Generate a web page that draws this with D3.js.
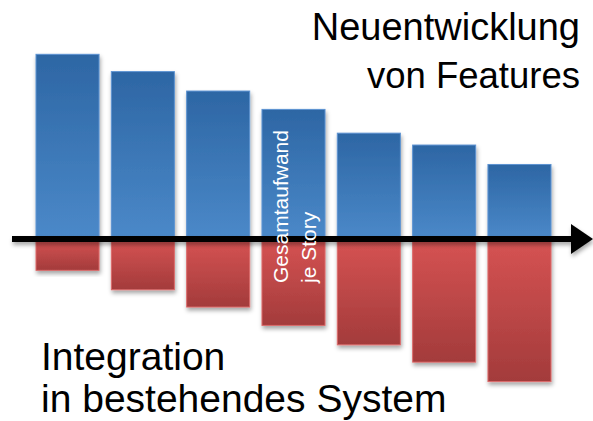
<!DOCTYPE html>
<html>
<head>
<meta charset="utf-8">
<script src="https://cdn.jsdelivr.net/npm/d3@7"></script>
<style>
  body { margin: 0; background: #fff; }
  svg { display: block; }
  text { font-family: "Liberation Sans", Arial, sans-serif; }
</style>
</head>
<body>
<div id="chart"></div>
<script>
// Aufwand je Story: Neuentwicklung (oben) vs. Integration (unten)
var stories = ["S1", "S2", "S3", "S4", "S5", "S6", "S7"];
var neuentwicklung = [8.55, 7.75, 6.85, 6.0, 4.9, 4.35, 3.45];
var integration = [1.45, 2.35, 3.15, 4.0, 4.9, 5.7, 6.6];

var width = 593, height = 421;

var svg = d3.select("#chart").append("svg")
  .attr("width", width)
  .attr("height", height);

var defs = svg.append("defs");

var blueGrad = defs.append("linearGradient")
  .attr("id", "blueGrad").attr("x1", 0).attr("y1", 0).attr("x2", 0).attr("y2", 1);
blueGrad.append("stop").attr("offset", "0%").attr("stop-color", "#2d66a4");
blueGrad.append("stop").attr("offset", "100%").attr("stop-color", "#4b89c9");

var redGrad = defs.append("linearGradient")
  .attr("id", "redGrad").attr("x1", 0).attr("y1", 0).attr("x2", 0).attr("y2", 1);
redGrad.append("stop").attr("offset", "0%").attr("stop-color", "#d65353");
redGrad.append("stop").attr("offset", "100%").attr("stop-color", "#a33b3b");

var shadow = defs.append("filter").attr("id", "shadow")
  .attr("x", "-10%").attr("y", "-10%").attr("width", "130%").attr("height", "130%");
shadow.append("feDropShadow")
  .attr("dx", 1).attr("dy", 3).attr("stdDeviation", 2)
  .attr("flood-color", "#000").attr("flood-opacity", 0.35);

var x = d3.scaleBand()
  .domain(stories)
  .range([36, 551])
  .paddingInner(0.163)
  .paddingOuter(0);

var y = d3.scaleLinear()
  .domain([-7, 9])
  .range([239 + 7 * 21.6, 239 - 9 * 21.6]);

// blaue Balken (oberhalb der Achse)
svg.selectAll(".neu").data(neuentwicklung)
  .enter().append("rect")
  .attr("class", "neu")
  .attr("x", function(d, i) { return x(stories[i]); })
  .attr("y", function(d) { return y(d); })
  .attr("width", x.bandwidth())
  .attr("height", function(d) { return y(0) - y(d); })
  .attr("fill", "url(#blueGrad)")
  .attr("stroke", "#5d93d2")
  .attr("stroke-width", 1)
  .attr("filter", "url(#shadow)");

// rote Balken (unterhalb der Achse)
svg.selectAll(".int").data(integration)
  .enter().append("rect")
  .attr("class", "int")
  .attr("x", function(d, i) { return x(stories[i]); })
  .attr("y", y(0))
  .attr("width", x.bandwidth())
  .attr("height", function(d) { return y(-d) - y(0); })
  .attr("fill", "url(#redGrad)")
  .attr("stroke", "#dc6b6b")
  .attr("stroke-width", 1)
  .attr("filter", "url(#shadow)");

// Achse mit Pfeil
var axis = svg.append("g").attr("filter", "url(#shadow)");
axis.append("line")
  .attr("x1", 12).attr("x2", 574)
  .attr("y1", y(0)).attr("y2", y(0))
  .attr("stroke", "#000")
  .attr("stroke-width", 6);
axis.append("path")
  .attr("d", "M571," + (y(0) - 15) + "L593," + y(0) + "L571," + (y(0) + 15) + "Z")
  .attr("fill", "#000");

// Beschriftung im Balken
var mid = x(stories[3]) + x.bandwidth() / 2;
var label = svg.append("text")
  .attr("transform", "translate(" + mid + ",283) rotate(-90)")
  .attr("fill", "#fff")
  .attr("font-size", 21);
label.append("tspan").attr("x", 0).attr("dy", -6).text("Gesamtaufwand");
label.append("tspan").attr("x", 0).attr("dy", 28).text("je Story");

// Titel oben rechts
svg.append("text").attr("x", 580).attr("y", 40)
  .attr("text-anchor", "end").attr("font-size", 38).attr("fill", "#000")
  .text("Neuentwicklung");
svg.append("text").attr("x", 580).attr("y", 88)
  .attr("text-anchor", "end").attr("font-size", 36.5).attr("fill", "#000")
  .text("von Features");

// Titel unten links
svg.append("text").attr("x", 41).attr("y", 370)
  .attr("font-size", 39).attr("fill", "#000")
  .text("Integration");
svg.append("text").attr("x", 41).attr("y", 412)
  .attr("font-size", 39).attr("fill", "#000")
  .text("in bestehendes System");
</script>
</body>
</html>
